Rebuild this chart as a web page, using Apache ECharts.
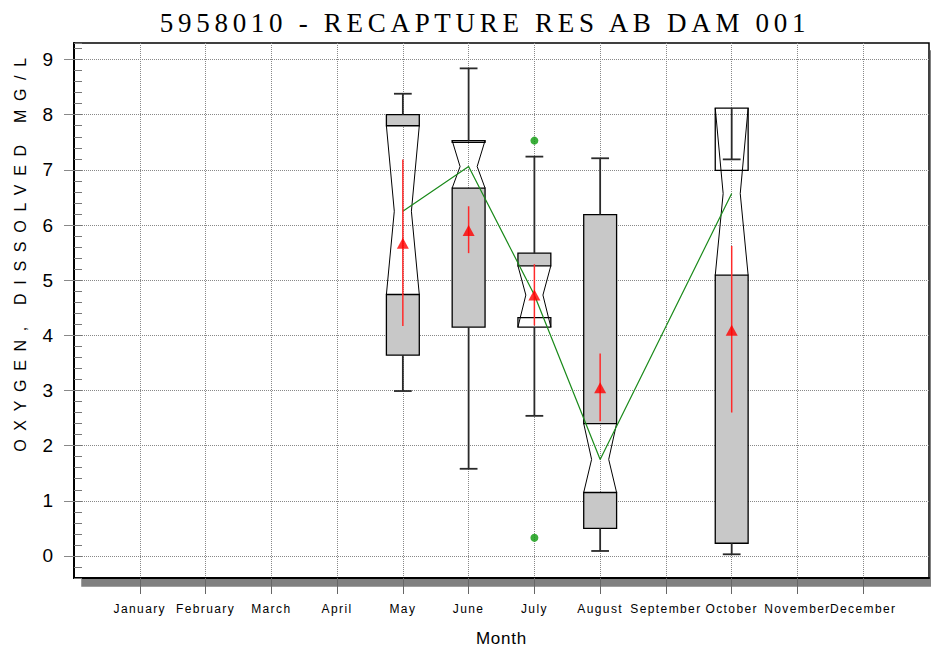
<!DOCTYPE html>
<html><head><meta charset="utf-8">
<script src="https://cdn.jsdelivr.net/npm/echarts@6/dist/echarts.min.js"></script>
<style>
html,body{margin:0;padding:0;background:#fff;}
#c{width:931px;height:650px;}
#c text[style*="27px"]{letter-spacing:4.7px;}
#c text[style*="16px"]{letter-spacing:8.7px;}
#c text[style*="12px"]{letter-spacing:1.4px;}
#c text[style*="17px"]{letter-spacing:0.8px;}
</style></head><body><div id="c"></div>
<script>
const monthNames = ['January','February','March','April','May','June','July','August','September','October','November','December'];
const monthTicks = [1,2,3,4,5,6,7,8,9,10,11,12];
const yTicks = [0,1,2,3,4,5,6,7,8,9];
const boxMonth    = [5, 6, 7, 8, 10];
const whiskerLow  = [2.99, 1.58, 2.54, 0.09, 0.03];
const q1          = [3.64, 4.15, 4.32, 0.50, 0.23];
const notchLow    = [4.74, 6.67, 4.15, 1.15, 5.09];
const median      = [6.25, 7.06, 4.73, 1.75, 6.57];
const notchHigh   = [7.80, 7.53, 5.26, 2.40, 8.12];
const q3          = [8.00, 7.50, 5.49, 6.19, 6.99];
const whiskerHigh = [8.38, 8.84, 7.24, 7.21, 7.19];
const meanValue   = [5.67, 5.90, 4.73, 3.05, 4.09];
const meanLow     = [4.17, 5.49, 4.18, 2.44, 2.60];
const meanHigh    = [7.19, 6.34, 5.29, 3.67, 5.62];
const outlierMonth = [7, 7];
const outlierValue = [7.53, 0.33];

const SANS = "'Liberation Sans',Arial,sans-serif";

function renderBox(params, api) {
  const x = api.value(0);
  const lw = api.value(1), a1 = api.value(2), nl = api.value(3), md = api.value(4),
        nh = api.value(5), a3 = api.value(6), hiw = api.value(7);
  const half = api.size([0.25, 0])[0];
  const waist = api.size([0.13, 0])[0];
  const cap = api.size([0.135, 0])[0];
  const P = yy => api.coord([x, yy]);
  const cx = P(md)[0];
  const children = [];
  function rect(y0, y1, filled) {
    const pt = P(Math.max(y0, y1)), pb = P(Math.min(y0, y1));
    children.push({type: 'rect',
      shape: {x: cx - half, y: pt[1], width: 2 * half, height: pb[1] - pt[1]},
      style: {fill: filled ? '#c8c8c8' : 'none', stroke: '#000', lineWidth: 1.3}});
  }
  rect(a1, nl, nl > a1);
  rect(nh, a3, a3 > nh);
  const yl = P(nl)[1], ym = P(md)[1], yh = P(nh)[1];
  const ns = {fill: 'none', stroke: '#000', lineWidth: 1};
  children.push({type: 'polyline', shape: {points: [[cx - half, yl], [cx - waist, ym], [cx - half, yh]]}, style: ns});
  children.push({type: 'polyline', shape: {points: [[cx + half, yl], [cx + waist, ym], [cx + half, yh]]}, style: ns});
  const ws = {stroke: '#2a2a2a', lineWidth: 1.8};
  const top = P(Math.max(a3, nh))[1], bot = P(Math.min(a1, nl))[1];
  const yhw = P(hiw)[1], ylw = P(lw)[1];
  children.push({type: 'line', shape: {x1: cx, y1: top, x2: cx, y2: yhw}, style: ws});
  children.push({type: 'line', shape: {x1: cx - cap, y1: yhw, x2: cx + cap, y2: yhw}, style: ws});
  children.push({type: 'line', shape: {x1: cx, y1: bot, x2: cx, y2: ylw}, style: ws});
  children.push({type: 'line', shape: {x1: cx - cap, y1: ylw, x2: cx + cap, y2: ylw}, style: ws});
  return {type: 'group', children};
}
function renderMeanCI(params, api) {
  const p0 = api.coord([api.value(0), api.value(1)]);
  const p1 = api.coord([api.value(0), api.value(2)]);
  return {type: 'line', shape: {x1: p0[0], y1: p0[1], x2: p1[0], y2: p1[1]},
    style: {stroke: '#ff2a2a', lineWidth: 1.5}};
}

const chart = echarts.init(document.getElementById('c'), null, {renderer: 'svg'});
chart.setOption({
  animation: false,
  backgroundColor: '#fff',
  title: {
    text: '5958010 - RECAPTURE RES AB DAM 001',
    left: 480, top: 4, textAlign: 'center',
    textStyle: {fontFamily: "'Liberation Serif','Times New Roman',serif", fontSize: 27, fontWeight: 'normal', color: '#000'}
  },
  grid: {
    left: 74, right: 2, top: 43, bottom: 72, show: true, containLabel: false, outerBoundsMode: 'none',
    backgroundColor: '#fff', borderColor: '#000', borderWidth: 1.5,
    shadowColor: '#808080', shadowOffsetX: 8, shadowOffsetY: 8, shadowBlur: 0
  },
  xAxis: {
    type: 'value', min: 0, max: 13, interval: 1,
    name: 'Month', nameLocation: 'middle', nameGap: 52,
    nameTextStyle: {fontFamily: SANS, fontSize: 17, color: '#000'},
    axisLine: {show: true, onZero: false, lineStyle: {color: '#000', width: 2}},
    axisTick: {show: true, customValues: monthTicks, length: 16, inside: false, lineStyle: {color: '#666', width: 1}},
    axisLabel: {customValues: monthTicks, formatter: v => monthNames[v - 1] || '', margin: 25,
      fontFamily: SANS, fontSize: 12, color: '#000'},
    splitLine: {show: true, lineStyle: {color: '#888', width: 1, type: 'dotted'}}
  },
  yAxis: [{
    type: 'value', min: -0.4, max: 9.3,
    name: 'OXYGEN, DISSOLVED MG/L', nameLocation: 'middle', nameGap: 46, nameRotate: 90,
    nameTextStyle: {fontFamily: SANS, fontSize: 16, color: '#000', padding: [0, 0, 0, 120]},
    axisLine: {show: true, onZero: false, lineStyle: {color: '#000', width: 2}},
    axisTick: {show: true, customValues: yTicks, length: 10, inside: false, lineStyle: {color: '#888', width: 1}},
    axisLabel: {customValues: yTicks, margin: 21, fontFamily: SANS, fontSize: 19, color: '#000'},
    splitLine: {show: true, lineStyle: {color: '#888', width: 1, type: 'dotted'}}
  }, {
    type: 'value', min: -0.4, max: 9.3, interval: 0.2, position: 'left',
    axisLine: {show: false},
    axisTick: {show: true, inside: true, length: 8, lineStyle: {color: '#777', width: 1}},
    axisLabel: {show: false},
    splitLine: {show: false}
  }],
  series: [{
    type: 'custom', renderItem: renderBox, z: 3,
    encode: {x: 0, y: [1, 2, 3, 4, 5, 6, 7]},
    data: boxMonth.map((m, i) => [m, whiskerLow[i], q1[i], notchLow[i], median[i], notchHigh[i], q3[i], whiskerHigh[i]])
  }, {
    type: 'line', z: 4, symbol: 'none',
    lineStyle: {color: '#1a8a1a', width: 1.2},
    data: boxMonth.map((m, i) => [m, median[i]])
  }, {
    type: 'custom', renderItem: renderMeanCI, z: 5,
    encode: {x: 0, y: [1, 2]},
    data: boxMonth.map((m, i) => [m, meanLow[i], meanHigh[i]])
  }, {
    type: 'scatter', z: 6, symbol: 'triangle', symbolSize: [12, 11],
    itemStyle: {color: '#ff0000'},
    data: boxMonth.map((m, i) => [m, meanValue[i]])
  }, {
    type: 'scatter', z: 6, symbol: 'circle', symbolSize: 8,
    itemStyle: {color: '#0a9a0a'},
    data: outlierMonth.map((m, i) => [m, outlierValue[i]])
  }]
});
</script></body></html>
